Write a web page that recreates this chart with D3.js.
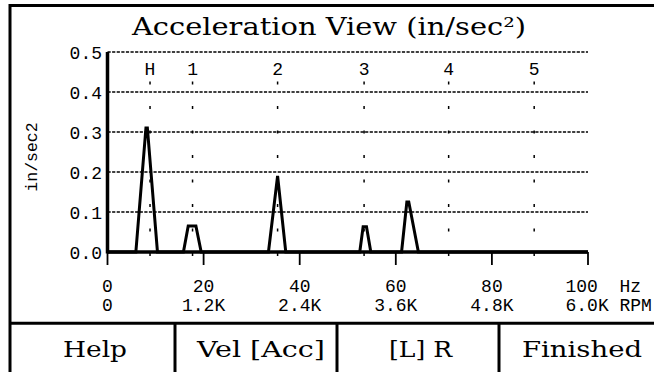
<!DOCTYPE html>
<html>
<head>
<meta charset="utf-8">
<script src="https://cdn.jsdelivr.net/npm/d3@7"></script>
<style>
  html, body { margin: 0; padding: 0; background: #fff; }
  svg { display: block; }
</style>
</head>
<body>
<svg id="chart" width="654" height="372"></svg>
<script>
// ---- data ----
const titleText = "Acceleration View (in/sec²)";
const yLabel = "in/sec2";
const freqHz = [0, 5.9, 8.0, 8.3, 10.4, 15.8, 16.8, 18.4, 19.5, 33.5, 35.4, 37.1, 52.5, 53.2, 53.9, 54.8, 61.2, 62.3, 62.7, 64.7, 100];
const accel  = [0, 0, 0.31, 0.31, 0, 0, 0.065, 0.065, 0, 0, 0.19, 0, 0, 0.063, 0.063, 0, 0, 0.125, 0.125, 0, 0];
const orderLabels = ["H", "1", "2", "3", "4", "5"];
const orderHz = [8.85, 17.7, 35.4, 53.4, 71.0, 88.8];
const yTicks = [0, 0.1, 0.2, 0.3, 0.4, 0.5];
const xTicks = [0, 20, 40, 60, 80, 100];
const hzLabels = ["0", "20", "40", "60", "80", "100"];
const rpmLabels = ["0", "1.2K", "2.4K", "3.6K", "4.8K", "6.0K"];
const hzUnit = "Hz";
const rpmUnit = "RPM";
const buttons = ["Help", "Vel [Acc]", "[L] R", "Finished"];

// ---- layout ----
const svg = d3.select("#chart");
const mono = "'Liberation Mono', 'Courier New', monospace";
const serif = "'DejaVu Serif', serif";
const x = d3.scaleLinear().domain([0, 100]).range([107.5, 588]);
const y = d3.scaleLinear().domain([0, 0.5]).range([252, 52]);

// outer frame (left and top)
svg.append("path")
  .attr("d", "M10,380 L10,5.5 L654,5.5")
  .attr("fill", "none").attr("stroke", "#000").attr("stroke-width", 3);

// title
svg.append("text")
  .attr("x", 329).attr("y", 34.5)
  .attr("text-anchor", "middle")
  .attr("font-family", serif).attr("font-size", 24)
  .attr("textLength", 394).attr("lengthAdjust", "spacingAndGlyphs")
  .text(titleText);

// gridlines
svg.append("g").selectAll("line").data(yTicks.filter(d => d > 0)).join("line")
  .attr("x1", x(0)).attr("x2", x(100))
  .attr("y1", d => y(d)).attr("y2", d => y(d))
  .attr("stroke", "#000").attr("stroke-width", 1.3)
  .attr("stroke-dasharray", "3.2,1.4");

// order marker lines
svg.append("g").selectAll("line").data(orderHz).join("line")
  .attr("x1", d => x(d)).attr("x2", d => x(d))
  .attr("y1", 81.5).attr("y2", 258)
  .attr("stroke", "#000").attr("stroke-width", 1.5)
  .attr("stroke-dasharray", "3,21.5");

svg.append("g").selectAll("text").data(orderLabels).join("text")
  .attr("x", (d, i) => x(orderHz[i])).attr("y", 75)
  .attr("text-anchor", "middle")
  .attr("font-family", mono).attr("font-size", 18)
  .text(d => d);

// y tick labels
svg.append("g").selectAll("text").data(yTicks).join("text")
  .attr("x", 102).attr("y", d => y(d) + 7)
  .attr("text-anchor", "end")
  .attr("font-family", mono).attr("font-size", 18)
  .text(d => d3.format(".1f")(d));

// y axis label
svg.append("text")
  .attr("transform", "translate(37,157) rotate(-90)")
  .attr("text-anchor", "middle")
  .attr("font-family", mono).attr("font-size", 16.5)
  .text(yLabel);

// spectrum
const line = d3.line().x(d => x(d[0])).y(d => y(d[1]));
svg.append("path")
  .datum(freqHz.map((f, i) => [f, accel[i]]))
  .attr("d", line)
  .attr("fill", "none").attr("stroke", "#000")
  .attr("stroke-width", 3).attr("stroke-linejoin", "miter");

// axes lines
svg.append("line")
  .attr("x1", x(0)).attr("x2", x(0)).attr("y1", y(0.5)).attr("y2", y(0) + 1.5)
  .attr("stroke", "#000").attr("stroke-width", 3.5);
svg.append("line")
  .attr("x1", x(0)).attr("x2", x(100)).attr("y1", y(0)).attr("y2", y(0))
  .attr("stroke", "#000").attr("stroke-width", 3.5);

// x ticks
svg.append("g").selectAll("line").data(xTicks).join("line")
  .attr("x1", d => x(d)).attr("x2", d => x(d))
  .attr("y1", y(0)).attr("y2", y(0) + 13)
  .attr("stroke", "#000").attr("stroke-width", 1.8);

// x tick labels (Hz row and RPM row)
const last = xTicks.length - 1;
svg.append("g").selectAll("text").data(xTicks).join("text")
  .attr("x", (d, i) => i === last ? x(d) - 22.5 : x(d))
  .attr("y", 291.5)
  .attr("text-anchor", (d, i) => i === last ? "start" : "middle")
  .attr("font-family", mono).attr("font-size", 18)
  .style("white-space", "pre")
  .text((d, i) => i === last ? hzLabels[i] + "  " + hzUnit : hzLabels[i]);
svg.append("g").selectAll("text").data(xTicks).join("text")
  .attr("x", (d, i) => i === last ? x(d) - 22.5 : x(d))
  .attr("y", 310.5)
  .attr("text-anchor", (d, i) => i === last ? "start" : "middle")
  .attr("font-family", mono).attr("font-size", 18)
  .style("white-space", "pre")
  .text((d, i) => i === last ? rpmLabels[i] + " " + rpmUnit : rpmLabels[i]);

// button bar
svg.append("line").attr("x1", 10).attr("x2", 654).attr("y1", 323.3).attr("y2", 323.3)
  .attr("stroke", "#000").attr("stroke-width", 3);
const dividers = [175, 337, 499];
svg.append("g").selectAll("line").data(dividers).join("line")
  .attr("x1", d => d).attr("x2", d => d).attr("y1", 323).attr("y2", 372)
  .attr("stroke", "#000").attr("stroke-width", 3);
const btnCenters = [95, 261, 420.5, 582];
const btnWidths = [64, 128, 63, 120];
svg.append("g").selectAll("text").data(buttons).join("text")
  .attr("x", (d, i) => btnCenters[i]).attr("y", 356.7)
  .attr("text-anchor", "middle")
  .attr("font-family", serif).attr("font-size", 23)
  .attr("textLength", (d, i) => btnWidths[i]).attr("lengthAdjust", "spacingAndGlyphs")
  .text(d => d);
</script>
</body>
</html>
